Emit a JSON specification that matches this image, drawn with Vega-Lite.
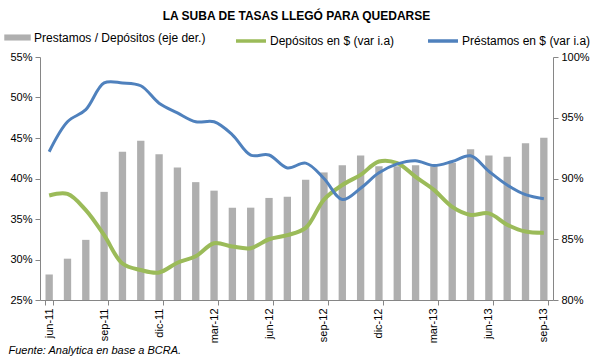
{
  "$schema": "https://vega.github.io/schema/vega-lite/v6.json",
  "autosize": "none",
  "width": 513,
  "height": 243,
  "padding": {"left": 40, "top": 57, "right": 47, "bottom": 60},
  "background": "white",
  "config": {
    "view": {"stroke": null},
    "font": "Liberation Sans",
    "axis": {"labelFont": "Liberation Sans", "labelFontSize": 11, "labelColor": "#000000", "domainColor": "#868686", "tickColor": "#868686", "grid": false, "tickSize": 5}
  },
  "title": {"text": "LA SUBA DE TASAS LLEGÓ PARA QUEDARSE", "fontSize": 12, "fontWeight": "bold", "font": "Liberation Sans", "anchor": "middle", "offset": 1, "color": "#000000"},
  "data": {"values": [
    {"mes": "jun-11", "ratio": 82.1, "dep": 37.9, "pres": 43.3},
    {"mes": "jul-11", "ratio": 83.4, "dep": 38.1, "pres": 47.0},
    {"mes": "ago-11", "ratio": 84.95, "dep": 36.1, "pres": 48.5},
    {"mes": "sep-11", "ratio": 88.9, "dep": 33.0, "pres": 51.8},
    {"mes": "oct-11", "ratio": 92.2, "dep": 29.5, "pres": 51.8},
    {"mes": "nov-11", "ratio": 93.1, "dep": 28.7, "pres": 51.45},
    {"mes": "dic-11", "ratio": 92.0, "dep": 28.4, "pres": 49.3},
    {"mes": "ene-12", "ratio": 90.9, "dep": 29.6, "pres": 48.1},
    {"mes": "feb-12", "ratio": 89.7, "dep": 30.4, "pres": 47.0},
    {"mes": "mar-12", "ratio": 89.0, "dep": 32.0, "pres": 47.0},
    {"mes": "abr-12", "ratio": 87.6, "dep": 31.6, "pres": 45.4},
    {"mes": "may-12", "ratio": 87.6, "dep": 31.4, "pres": 42.9},
    {"mes": "jun-12", "ratio": 88.4, "dep": 32.5, "pres": 42.9},
    {"mes": "jul-12", "ratio": 88.5, "dep": 33.0, "pres": 41.3},
    {"mes": "ago-12", "ratio": 89.9, "dep": 33.9, "pres": 41.9},
    {"mes": "sep-12", "ratio": 90.5, "dep": 37.4, "pres": 40.0},
    {"mes": "oct-12", "ratio": 91.1, "dep": 39.2, "pres": 37.4},
    {"mes": "nov-12", "ratio": 91.9, "dep": 40.45, "pres": 38.8},
    {"mes": "dic-12", "ratio": 91.0, "dep": 42.1, "pres": 40.7},
    {"mes": "ene-13", "ratio": 91.0, "dep": 41.9, "pres": 41.8},
    {"mes": "feb-13", "ratio": 91.1, "dep": 40.2, "pres": 42.2},
    {"mes": "mar-13", "ratio": 91.0, "dep": 38.6, "pres": 41.6},
    {"mes": "abr-13", "ratio": 91.3, "dep": 36.5, "pres": 42.1},
    {"mes": "may-13", "ratio": 92.4, "dep": 35.5, "pres": 42.8},
    {"mes": "jun-13", "ratio": 91.9, "dep": 35.7, "pres": 40.9},
    {"mes": "jul-13", "ratio": 91.8, "dep": 34.3, "pres": 39.2},
    {"mes": "ago-13", "ratio": 92.9, "dep": 33.45, "pres": 38.0},
    {"mes": "sep-13", "ratio": 93.35, "dep": 33.3, "pres": 37.5}
  ]},
  "encoding": {
    "x": {
      "field": "mes", "type": "ordinal", "sort": null,
      "scale": {"paddingInner": 0.6, "paddingOuter": 0.3},
      "axis": {
        "values": ["jun-11", "sep-11", "dic-11", "mar-12", "jun-12", "sep-12", "dic-12", "mar-13", "jun-13", "sep-13"],
        "labelAngle": -90, "labelPadding": 3, "tickBand": "extent",
        "title": "Fuente: Analytica en base a BCRA.",
        "titleFont": "Liberation Sans", "titleFontSize": 11, "titleFontStyle": "italic", "titleFontWeight": "normal",
        "titleAnchor": "start", "titleAlign": "left", "titleX": -32, "titleY": 50, "titleBaseline": "middle", "titleColor": "#000000"
      }
    }
  },
  "layer": [
    {
      "mark": {"type": "bar"},
      "encoding": {
        "y": {"field": "ratio", "type": "quantitative", "scale": {"domain": [80, 100], "zero": false, "nice": false},
              "axis": {"orient": "right", "values": [80, 85, 90, 95, 100], "labelExpr": "datum.value + '%'", "title": null, "labelPadding": 3}},
        "y2": {"datum": 80},
        "fill": {"datum": "Prestamos / Depósitos (eje der.)", "type": "nominal",
                 "scale": {"range": ["#AFAFAF"]},
                 "legend": {"orient": "none", "legendX": -36, "legendY": -33, "title": null, "symbolType": "M-1,-0.23H1V0.23H-1Z", "symbolSize": 700, "symbolStrokeWidth": 0, "labelFont": "Liberation Sans", "labelFontSize": 12, "labelOffset": 3, "labelLimit": 0, "labelColor": "#000000"}}
      }
    },
    {
      "layer": [
        {
          "mark": {"type": "line", "interpolate": "catmull-rom", "strokeWidth": 4},
          "encoding": {
            "y": {"field": "dep", "type": "quantitative"},
            "stroke": {"datum": "Depósitos en $ (var i.a)", "type": "nominal"}
          }
        },
        {
          "mark": {"type": "line", "interpolate": "catmull-rom", "strokeWidth": 3},
          "encoding": {
            "y": {"field": "pres", "type": "quantitative"},
            "stroke": {"datum": "Préstamos en $ (var i.a)", "type": "nominal"}
          }
        }
      ],
      "encoding": {
        "y": {"type": "quantitative", "scale": {"domain": [25, 55], "zero": false, "nice": false},
              "axis": {"orient": "left", "values": [25, 30, 35, 40, 45, 50, 55], "labelExpr": "datum.value + '%'", "title": null, "labelPadding": 3}},
        "stroke": {"type": "nominal",
                   "scale": {"domain": ["Depósitos en $ (var i.a)", "Préstamos en $ (var i.a)"], "range": ["#9BBB59", "#4F81BD"]},
                   "legend": {"orient": "none", "direction": "horizontal", "legendX": 194, "legendY": -33, "title": null, "symbolType": "stroke", "symbolSize": 900, "symbolStrokeWidth": 3.5, "columnPadding": 26, "labelFont": "Liberation Sans", "labelFontSize": 12, "labelOffset": 2, "labelLimit": 0, "labelColor": "#000000"}}
      }
    }
  ],
  "resolve": {"scale": {"y": "independent", "fill": "independent", "stroke": "independent"}}
}
